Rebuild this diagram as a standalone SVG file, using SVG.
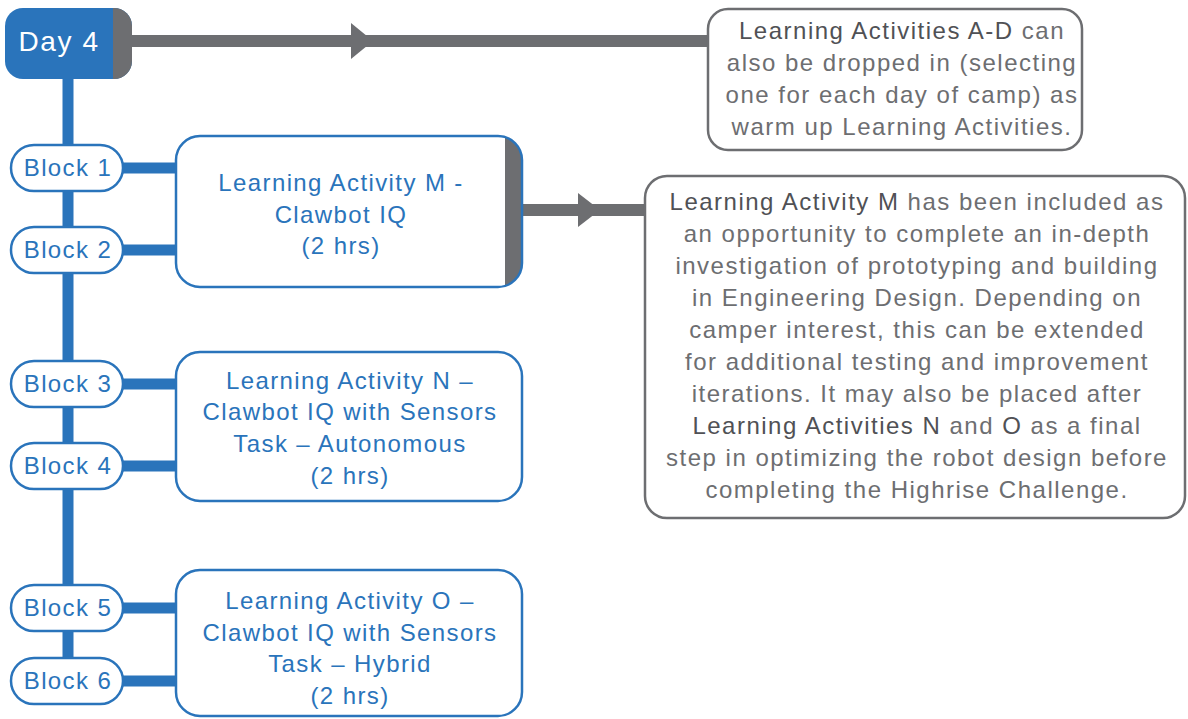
<svg xmlns="http://www.w3.org/2000/svg" width="1188" height="719" viewBox="0 0 1188 719">
<defs>
<style>
.blk{fill:#fff;stroke:#2A74BB;stroke-width:2.5}
.bt{font-family:"Liberation Sans",Arial,sans-serif;font-size:24px;fill:#2A74BB;text-anchor:middle;letter-spacing:1.4px}
.nt{font-family:"Liberation Sans",Arial,sans-serif;font-size:24px;fill:#6D6E71;text-anchor:middle;letter-spacing:1.5px}
.nt .b{fill:#505155}
.note{fill:#fff;stroke:#6D6E71;stroke-width:2.5}
.bl{stroke:#2A74BB;stroke-width:11;fill:none}
.gl{stroke:#6D6E71;stroke-width:12;fill:none}
.ah{fill:#6D6E71}
</style>
<clipPath id="cDay"><rect x="5" y="8" width="127" height="71" rx="18"/></clipPath>
<clipPath id="cM"><rect x="176" y="136" width="346" height="151" rx="24"/></clipPath>
</defs>
<g id="connectors">
<line class="bl" x1="68" y1="75" x2="68" y2="682"/>
<line class="bl" x1="120" y1="168" x2="180" y2="168"/>
<line class="bl" x1="120" y1="250" x2="180" y2="250"/>
<line class="bl" x1="120" y1="384" x2="180" y2="384"/>
<line class="bl" x1="120" y1="466" x2="180" y2="466"/>
<line class="bl" x1="120" y1="608" x2="180" y2="608"/>
<line class="bl" x1="120" y1="681" x2="180" y2="681"/>
<line class="gl" x1="130" y1="41" x2="710" y2="41"/>
<polygon class="ah" points="351,23 373,41 351,59"/>
<line class="gl" x1="520" y1="210" x2="647" y2="210"/>
<polygon class="ah" points="578,193 600,210 578,227"/>
</g>
<g id="day4">
<g clip-path="url(#cDay)">
<rect x="5" y="8" width="127" height="71" fill="#2A74BB"/>
<rect x="113" y="8" width="19" height="71" fill="#6D6E71"/>
</g>
<text x="59" y="51" font-family="'Liberation Sans',Arial,sans-serif" font-size="28" letter-spacing="1.6" fill="#fff" text-anchor="middle">Day 4</text>
</g>
<g id="block1"><rect class="blk" x="11" y="145" width="112" height="46" rx="23"/><text class="bt" x="68" y="176">Block 1</text></g>
<g id="block2"><rect class="blk" x="11" y="227" width="112" height="46" rx="23"/><text class="bt" x="68" y="258">Block 2</text></g>
<g id="block3"><rect class="blk" x="11" y="361" width="112" height="46" rx="23"/><text class="bt" x="68" y="392">Block 3</text></g>
<g id="block4"><rect class="blk" x="11" y="443" width="112" height="46" rx="23"/><text class="bt" x="68" y="474">Block 4</text></g>
<g id="block5"><rect class="blk" x="11" y="585" width="112" height="46" rx="23"/><text class="bt" x="68" y="616">Block 5</text></g>
<g id="block6"><rect class="blk" x="11" y="658" width="112" height="46" rx="23"/><text class="bt" x="68" y="689">Block 6</text></g>
<g id="activityM">
<g clip-path="url(#cM)">
<rect x="176" y="136" width="346" height="151" fill="#fff"/>
<rect x="505" y="136" width="17" height="151" fill="#6D6E71"/>
</g>
<rect x="176" y="136" width="346" height="151" rx="24" fill="none" stroke="#2A74BB" stroke-width="2.5"/>
<text class="bt" x="341" y="191">Learning Activity M -</text>
<text class="bt" x="341" y="223">Clawbot IQ</text>
<text class="bt" x="341" y="254">(2 hrs)</text>
</g>
<g id="activityN">
<rect class="blk" x="176" y="352" width="346" height="149" rx="24"/>
<text class="bt" x="350" y="389">Learning Activity N –</text>
<text class="bt" x="350" y="420">Clawbot IQ with Sensors</text>
<text class="bt" x="350" y="452">Task – Autonomous</text>
<text class="bt" x="350" y="484">(2 hrs)</text>
</g>
<g id="activityO">
<rect class="blk" x="176" y="570" width="346" height="146" rx="24"/>
<text class="bt" x="350" y="609">Learning Activity O –</text>
<text class="bt" x="350" y="641">Clawbot IQ with Sensors</text>
<text class="bt" x="350" y="672">Task – Hybrid</text>
<text class="bt" x="350" y="704">(2 hrs)</text>
</g>
<g id="note1">
<rect class="note" x="708" y="9" width="374" height="141" rx="20"/>
<text class="nt" x="902" y="39"><tspan class="b">Learning Activities A-D</tspan> can</text>
<text class="nt" x="902" y="71">also be dropped in (selecting</text>
<text class="nt" x="902" y="103">one for each day of camp) as</text>
<text class="nt" x="902" y="135">warm up Learning Activities.</text>
</g>
<g id="note2">
<rect class="note" x="645" y="176" width="540" height="342" rx="22"/>
<text class="nt" x="917" y="210"><tspan class="b">Learning Activity M</tspan> has been included as</text>
<text class="nt" x="917" y="242">an opportunity to complete an in-depth</text>
<text class="nt" x="917" y="274">investigation of prototyping and building</text>
<text class="nt" x="917" y="306">in Engineering Design. Depending on</text>
<text class="nt" x="917" y="338">camper interest, this can be extended</text>
<text class="nt" x="917" y="370">for additional testing and improvement</text>
<text class="nt" x="917" y="402">iterations. It may also be placed after</text>
<text class="nt" x="917" y="434"><tspan class="b">Learning Activities N</tspan> and <tspan class="b">O</tspan> as a final</text>
<text class="nt" x="917" y="466">step in optimizing the robot design before</text>
<text class="nt" x="917" y="498">completing the Highrise Challenge.</text>
</g>
</svg>
